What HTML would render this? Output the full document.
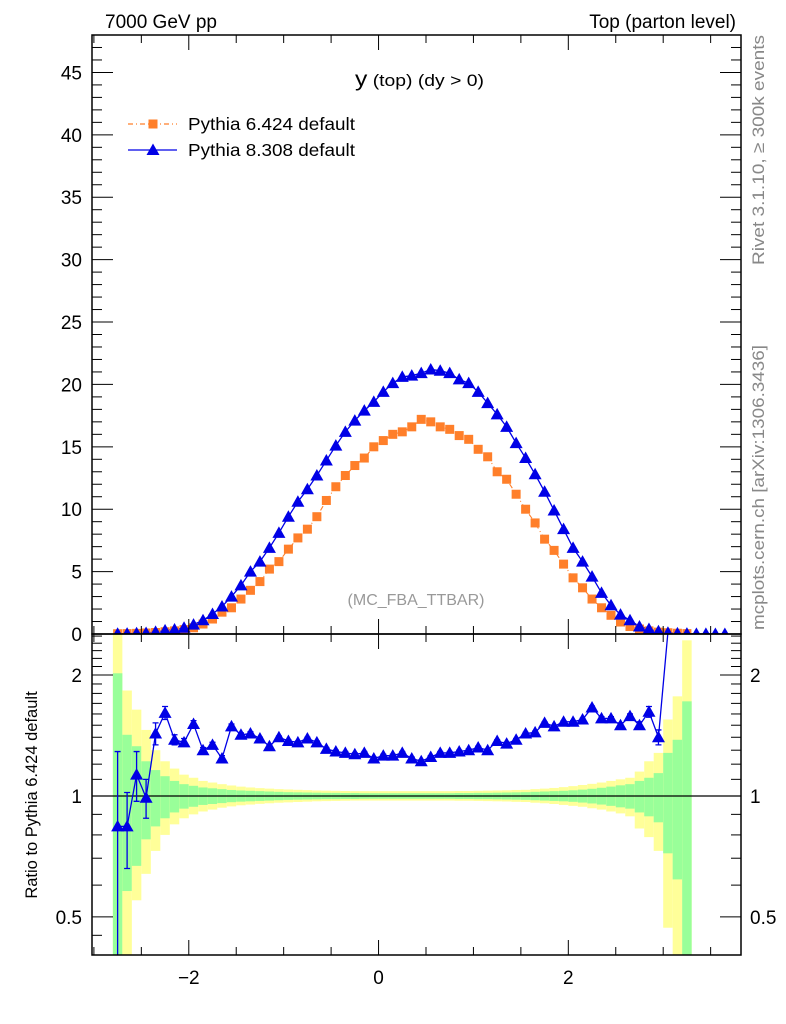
<!DOCTYPE html>
<html><head><meta charset="utf-8"><style>
html,body{margin:0;padding:0;background:#fff;overflow:hidden;width:786px;height:1024px;}
svg{display:block;font-family:"Liberation Sans",Arial,sans-serif;}
</style></head><body>
<svg id="chart" width="786" height="1024" viewBox="0 0 786 1024" xmlns="http://www.w3.org/2000/svg">
<defs>
<clipPath id="clipMain"><rect x="92" y="35" width="649" height="599"/></clipPath>
<clipPath id="clipRatio"><rect x="92" y="634" width="649" height="321"/></clipPath>
</defs>
<g id="ratioBands" clip-path="url(#clipRatio)"></g>
<g id="ratioMarks" clip-path="url(#clipRatio)"></g>
<g id="mainMarks" clip-path="url(#clipMain)"></g>
<g id="axes"></g>
<text x="105" y="28" font-size="19">7000 GeV pp</text>
<text x="736" y="28" font-size="19" text-anchor="end">Top (parton level)</text>
<text x="355" y="86" textLength="129" lengthAdjust="spacingAndGlyphs"><tspan font-size="21">y</tspan><tspan font-size="16.5"> (top) (dy &gt; 0)</tspan></text>
<text x="416" y="605" font-size="16" fill="#999" text-anchor="middle">(MC_FBA_TTBAR)</text>
<g>
  <g>
    <line x1="128" y1="124" x2="177" y2="124" stroke="#ff7f2a" stroke-width="1.2" stroke-dasharray="5,3,1,3"/>
    <rect x="148.5" y="119.5" width="9" height="9" fill="#ff7f2a"/>
    <text x="188" y="130" font-size="17.5" textLength="167" lengthAdjust="spacingAndGlyphs">Pythia 6.424 default</text>
  </g>
  <g>
    <line x1="128" y1="150" x2="177" y2="150" stroke="#0000e6" stroke-width="1.2"/>
    <polygon points="153,143.5 159.5,155 146.5,155" fill="#0000e6"/>
    <text x="188" y="156" font-size="17.5" textLength="167" lengthAdjust="spacingAndGlyphs">Pythia 8.308 default</text>
  </g>
</g>
<text transform="translate(764,265) rotate(-90)" font-size="17" fill="#888" textLength="230" lengthAdjust="spacingAndGlyphs">Rivet 3.1.10, ≥ 300k events</text>
<text transform="translate(764,630) rotate(-90)" font-size="17" fill="#888" textLength="285" lengthAdjust="spacingAndGlyphs">mcplots.cern.ch [arXiv:1306.3436]</text>
<text transform="translate(37,795) rotate(-90)" font-size="16.5" text-anchor="middle">Ratio to Pythia 6.424 default</text>
</svg>
<script>
// ---- data ----
const binStart = -2.75;
const binStep = 0.1;
const pythia6 = [0.02,0.03,0.05,0.08,0.12,0.18,0.25,0.35,0.5,0.8,1.2,1.75,2.1,2.8,3.5,4.2,5.2,5.8,6.8,7.7,8.4,9.4,10.7,11.8,12.7,13.5,14.1,15.0,
 15.5,16.0,16.2,16.6,17.2,17.0,16.6,16.4,15.9,15.6,14.8,14.2,13.0,12.4,11.2,10.0,8.9,7.6,6.7,5.6,4.5,3.7,2.8,2.1,1.5,0.96,0.6,0.4,0.25,0.15,0.1,0.06,0.03,0,0,0,0];
const pythia8 = [0.02,0.03,0.06,0.08,0.17,0.29,0.36,0.5,0.75,1.1,1.6,2.2,3.0,3.9,5.0,5.8,6.9,8.1,9.4,10.6,11.6,12.7,13.9,15.1,16.2,17.1,17.9,18.6,
 19.4,20.1,20.6,20.7,20.9,21.2,21.1,20.9,20.4,20.1,19.4,18.5,17.6,16.6,15.3,14.1,12.8,11.4,9.9,8.4,6.9,5.8,4.6,3.3,2.3,1.55,1.1,0.6,0.4,0.22,0.1,0.05,0.03,0.01,0.01,0.005,0.005];
const ratio8 = [0.84,0.84,1.13,0.99,1.43,1.61,1.38,1.36,1.51,1.30,1.34,1.24,1.49,1.42,1.43,1.39,1.33,1.40,1.37,1.36,1.39,1.36,1.31,1.29,1.28,1.27,1.28,1.24,1.26,1.26,1.28,1.24,1.22,
 1.25,1.28,1.28,1.29,1.30,1.32,1.30,1.37,1.35,1.38,1.43,1.44,1.52,1.49,1.53,1.53,1.55,1.66,1.56,1.56,1.50,1.58,1.50,1.62,1.40,4.0];
const ratioErr = [0.45,0.18,0.16,0.11,0.09,0.06,0.04,0.03,0.03,0.02,0.02,0.02,0.02,0.015,0.015,0.01,0.01,0.01,0.01,0.01,0.01,0.01,0.01,0.01,0.01,0.01,0.01,0.01,0.01,0.01,0.01,0.01,0.01,
 0.01,0.01,0.01,0.01,0.01,0.01,0.01,0.01,0.01,0.01,0.01,0.01,0.01,0.01,0.01,0.01,0.01,0.015,0.015,0.015,0.02,0.02,0.03,0.05,0.06,0];
const greenErr = [1.02,0.42,0.33,0.22,0.16,0.12,0.09,0.07,0.06,0.05,0.045,0.04,0.035,0.032,0.03,0.028,0.026,0.024,0.022,0.021,0.02,0.019,0.018,0.018,0.017,0.017,0.016,0.016,0.016,0.016,0.016,0.016,0.016,0.016,0.016,0.016,0.017,0.017,0.018,0.018,0.019,0.02,0.021,
 0.022,0.024,0.026,0.028,0.03,0.033,0.037,0.042,0.048,0.055,0.063,0.07,0.09,0.11,0.14,0.28,0.38,0.72];
const yellowUp = [2,0.83,0.64,0.46,0.30,0.22,0.17,0.13,0.11,0.09,0.08,0.07,0.062,0.055,0.05,0.046,0.043,0.04,0.038,0.036,0.034,0.032,0.031,0.03,0.029,0.028,0.028,0.028,0.028,0.028,0.028,0.028,0.028,0.028,0.028,0.028,0.029,0.029,0.03,0.031,0.032,0.033,0.035,
 0.036,0.04,0.043,0.047,0.052,0.058,0.065,0.072,0.08,0.09,0.10,0.11,0.15,0.22,0.28,0.55,0.77,1.44];
const yellowDn = [1,1,0.45,0.36,0.27,0.20,0.15,0.12,0.10,0.085,0.075,0.065,0.058,0.052,0.048,0.044,0.041,0.038,0.036,0.034,0.032,0.03,0.029,0.028,0.027,0.026,0.026,0.026,0.026,0.026,0.026,0.026,0.026,0.026,0.026,0.026,0.027,0.027,0.028,0.029,0.03,0.031,0.033,
 0.034,0.038,0.041,0.045,0.05,0.055,0.06,0.068,0.075,0.085,0.095,0.11,0.17,0.21,0.27,0.53,1,1];
const xTicks = [-2,0,2];
const yTicksMain = [0,5,10,15,20,25,30,35,40,45];
const yTicksRatio = [0.5,1,2];

// ---- axes functions ----
const L=92,R=741,T=35,MB=634,RB=955;
const X0=-3.02,X1=3.82;
const sx=v=>L+(v-X0)/(X1-X0)*(R-L);
const syM=v=>MB-(v-0)/(48-0)*(MB-T);
const RMIN=0.402,RMAX=2.53;
const syRraw=v=>RB-(Math.log10(v)-Math.log10(RMIN))/(Math.log10(RMAX)-Math.log10(RMIN))*(RB-MB);
const syR=v=>Math.min(RB+2,Math.max(MB-2,syRraw(Math.max(v,0.01))));
const center=i=>binStart+binStep*i;
const NS="http://www.w3.org/2000/svg";
function mk(tag,attrs,parent){const e=document.createElementNS(NS,tag);for(const k in attrs)e.setAttribute(k,attrs[k]);parent.appendChild(e);return e;}

// ---- bands ----
const gB=document.getElementById('ratioBands');
for(let i=0;i<greenErr.length;i++){
  const x0=sx(center(i)-binStep/2),x1=sx(center(i)+binStep/2);
  const yu=syR(1+yellowUp[i]), yd=syR(1-yellowDn[i]);
  const r1=mk('rect',{x:x0,y:yu,width:x1-x0,height:yd-yu,fill:'#ffff99'},gB);
  
  
  const gu=syR(1+greenErr[i]), gd=syR(1-greenErr[i]);
  const r2=mk('rect',{x:x0,y:gu,width:x1-x0,height:gd-gu,fill:'#99ff99'},gB);
  
  
}
const one=mk('line',{x1:L,x2:R,y1:syR(1),y2:syR(1),stroke:'#000','stroke-width':1.2},gB);



// ---- ratio series ----
const gR=document.getElementById('ratioMarks');
let pts=ratio8.map((v,i)=>sx(center(i))+','+syR(v)).join(' ');
const rl=mk('polyline',{points:pts,fill:'none',stroke:'#0000e6','stroke-width':1.3},gR);


ratio8.forEach((v,i)=>{
  if(v>RMAX) return;
  const x=sx(center(i)),y=syR(v);
  if(ratioErr[i]>0){
    const lo=syR(v-ratioErr[i]),hi=syR(v+ratioErr[i]);
    const eb=mk('path',{d:`M${x},${hi}V${lo}M${x-3},${hi}H${x+3}M${x-3},${lo}H${x+3}`,stroke:'#0000e6','stroke-width':1.3,fill:'none'},gR);
    
    
  }
  const t=mk('polygon',{points:`${x},${y-6.5} ${x+6.5},${y+5} ${x-6.5},${y+5}`,fill:'#0000e6'},gR);
  
  
});

// ---- main series ----
const gM=document.getElementById('mainMarks');
const l6=mk('polyline',{points:pythia6.map((v,i)=>sx(center(i))+','+syM(v)).join(' '),fill:'none',stroke:'#ff7f2a','stroke-width':1.1,'stroke-dasharray':'5,3,1,3'},gM);


const l8=mk('polyline',{points:pythia8.map((v,i)=>sx(center(i))+','+syM(v)).join(' '),fill:'none',stroke:'#0000e6','stroke-width':1.3},gM);


pythia6.forEach((v,i)=>{
  if(center(i)>3.3) return;
  const x=sx(center(i)),y=syM(v);
  const s=mk('rect',{x:x-4.5,y:y-4.5,width:9,height:9,fill:'#ff7f2a'},gM);
  
  
});
pythia8.forEach((v,i)=>{
  const x=sx(center(i)),y=syM(v);
  const t=mk('polygon',{points:`${x},${y-6.5} ${x+6.5},${y+5} ${x-6.5},${y+5}`,fill:'#0000e6'},gM);
  
  
});

// ---- axes ----
const gA=document.getElementById('axes');
function ln(x1,y1,x2,y2,name){const e=mk('line',{x1,y1,x2,y2,stroke:'#000','stroke-width':1},gA);return e;}
const f1=mk('rect',{x:L,y:T,width:R-L,height:MB-T,fill:'none',stroke:'#000','stroke-width':1.5},gA);


const f2=mk('rect',{x:L,y:MB,width:R-L,height:RB-MB,fill:'none',stroke:'#000','stroke-width':1.5},gA);


for(let k=-6;k<=7;k++){
  const v=k*0.5,x=sx(v);
  if(x<L||x>R) continue;
  const major=xTicks.includes(v);
  const len=major?15:8;
  [T,MB].forEach(y=>ln(x,y,x,y+len,'x-tick'));
  [MB,RB].forEach(y=>ln(x,y,x,y-len,'x-tick'));
}
xTicks.forEach(v=>{
  const t=mk('text',{x:sx(v),y:984,'font-size':19,'text-anchor':'middle'},gA);
  t.textContent=v<0?'\u2212'+Math.abs(v):String(v);
  
  
});
for(let v=0;v<=48;v++){
  const y=syM(v),major=v%5===0,len=major?21:10;
  ln(L,y,L+len,y,'y-tick');ln(R,y,R-len,y,'y-tick');
}
yTicksMain.forEach(v=>{
  const t=mk('text',{x:82,y:syM(v)+7,'font-size':19,'text-anchor':'end'},gA);
  t.textContent=String(v);
  
  
});
for(let k=5;k<=25;k++){
  const v=k/10; if(v<RMIN||v>RMAX) continue;
  const y=syR(v),major=yTicksRatio.includes(v),len=major?21:10;
  ln(L,y,L+len,y,'ratio-y-tick');ln(R,y,R-len,y,'ratio-y-tick');
}
ln(L,syR(0.45),L+10,syR(0.45),'ratio-y-tick');
yTicksRatio.forEach(v=>{
  const a=mk('text',{x:82,y:syR(v)+7,'font-size':19,'text-anchor':'end'},gA);
  a.textContent=String(v);
  
  
  const b=mk('text',{x:750,y:syR(v)+7,'font-size':19},gA);
  b.textContent=String(v);
  
  
});
</script>
</body></html>
